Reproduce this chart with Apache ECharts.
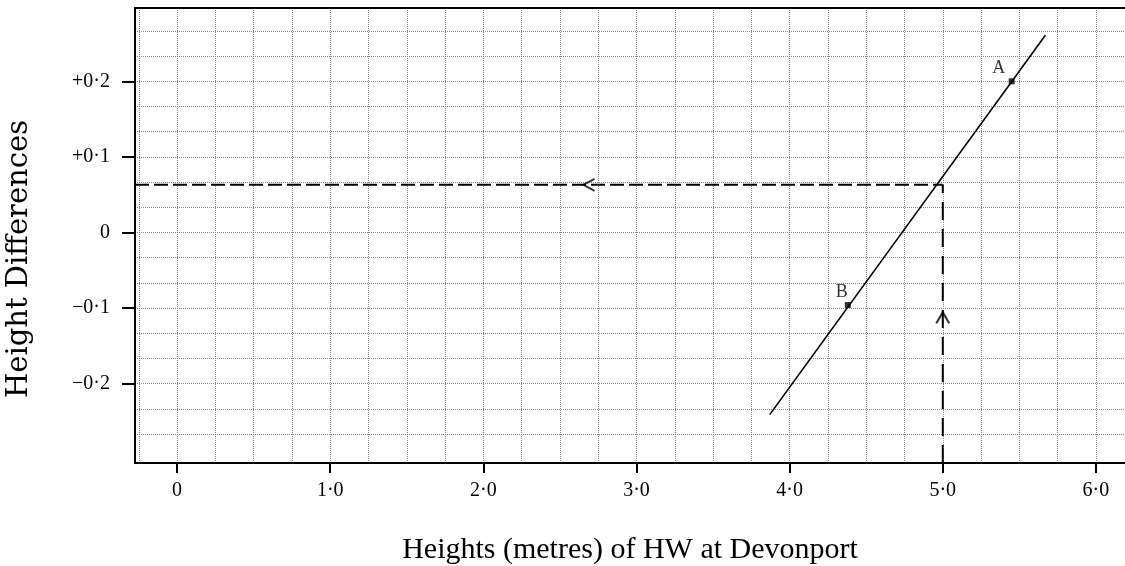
<!DOCTYPE html>
<html>
<head>
<meta charset="utf-8">
<script src="https://cdn.jsdelivr.net/npm/echarts@6/dist/echarts.min.js"></script>
<style>
  html, body { margin: 0; padding: 0; background: #fff; }
  #chart { width: 1125px; height: 566px; }
</style>
</head>
<body>
<div id="chart"></div>
<script>
// axis ranges and ticks
var xRange = [-0.275, 6.19];
var yRange = [-0.305, 0.297];
var xTicks = [0, 1, 2, 3, 4, 5, 6];
var xTickLabels = ['0', '1·0', '2·0', '3·0', '4·0', '5·0', '6·0'];
var yTicks = [-0.2, -0.1, 0, 0.1, 0.2];
var yTickLabels = ['−0·2', '−0·1', '0', '+0·1', '+0·2'];

// the fitted line and the two points on it
var lineX = [3.87, 5.67];
var lineY = [-0.241, 0.261];
var pointNames = ['A', 'B'];
var pointX = [5.45, 4.38];
var pointY = [0.200, -0.096];

// reading: HW of 5.0 m gives a difference of about +0.063
var readX = 5.0;
var readY = 0.063;
var arrowLeftX = 2.69;   // arrow on the horizontal dashed line
var arrowUpY = -0.113;   // arrow on the vertical dashed line

var serif = '"Liberation Serif", "DejaVu Serif", serif';
var ink = '#000';

var chart = echarts.init(document.getElementById('chart'));

var dotted = { show: true, lineStyle: { color: '#8a8a8a', type: 'dotted', width: 1 } };

var option = {
  animation: false,
  backgroundColor: '#fff',
  grid: { left: 135, right: 0, top: 8, bottom: 103, outerBoundsMode: 'none', containLabel: false },
  graphic: [{
    type: 'text',
    x: 19, y: 259,
    rotation: Math.PI / 2,
    style: {
      text: 'Height Differences',
      font: '29px "DejaVu Serif", serif',
      fill: ink,
      align: 'center',
      verticalAlign: 'middle'
    }
  }],
  xAxis: [{
    type: 'value',
    min: xRange[0], max: xRange[1],
    name: 'Heights (metres) of HW at Devonport',
    nameLocation: 'middle',
    nameGap: 72,
    nameTextStyle: { fontFamily: serif, fontSize: 30, color: ink },
    axisLine: { onZero: false, lineStyle: { color: ink, width: 2 } },
    axisTick: { customValues: xTicks, length: 10, lineStyle: { color: ink, width: 2 } },
    axisLabel: {
      customValues: xTicks,
      margin: 18,
      fontFamily: serif, fontSize: 20, color: ink,
      formatter: function (v) { return xTickLabels[xTicks.indexOf(Math.round(v))]; }
    },
    splitLine: dotted,
    minorTick: { show: false, splitNumber: 4 },
    minorSplitLine: dotted
  }, {
    type: 'value',
    position: 'top',
    min: xRange[0], max: xRange[1],
    axisLine: { onZero: false, lineStyle: { color: ink, width: 2 } },
    axisTick: { show: false },
    axisLabel: { show: false },
    splitLine: { show: false }
  }],
  yAxis: {
    type: 'value',
    min: yRange[0], max: yRange[1],
    axisLine: { show: true, onZero: false, lineStyle: { color: ink, width: 2 } },
    axisTick: { show: true, customValues: yTicks, length: 13, lineStyle: { color: ink, width: 2 } },
    axisLabel: {
      customValues: yTicks,
      margin: 25,
      fontFamily: serif, fontSize: 20, color: ink,
      formatter: function (v) {
        for (var i = 0; i < yTicks.length; i++) {
          if (Math.abs(yTicks[i] - v) < 1e-6) return yTickLabels[i];
        }
        return '';
      }
    },
    splitLine: dotted,
    minorTick: { show: false, splitNumber: 3 },
    minorSplitLine: dotted
  },
  series: [{
    // horizontal reading line
    type: 'line',
    data: [[xRange[0], readY], [readX, readY]],
    symbol: 'none',
    lineStyle: { color: ink, width: 2, type: [14, 5] },
    z: 3
  }, {
    // vertical reading line
    type: 'line',
    data: [[readX, yRange[0]], [readX, readY]],
    symbol: 'none',
    lineStyle: { color: ink, width: 2, type: [18, 9] },
    z: 3
  }, {
    type: 'line',
    data: lineX.map(function (x, i) { return [x, lineY[i]]; }),
    symbol: 'none',
    lineStyle: { color: ink, width: 1.6 },
    z: 4
  }, {
    type: 'scatter',
    data: pointX.map(function (x, i) {
      return {
        name: pointNames[i],
        value: [x, pointY[i]],
        label: { offset: i === 0 ? [-13, 0] : [-6, 0] }
      };
    }),
    symbol: 'rect',
    symbolSize: 6,
    itemStyle: { color: ink },
    label: {
      show: true,
      position: 'top',
      distance: 1,
      formatter: '{b}',
      fontFamily: serif, fontSize: 18, color: ink
    },
    z: 5
  }, {
    // arrow heads on the reading lines
    type: 'scatter',
    data: [
      { value: [arrowLeftX, readY], symbolRotate: 0, symbolSize: [11, 12] },
      { value: [readX, arrowUpY], symbolRotate: -90, symbolSize: [11, 13] }
    ],
    symbol: 'path://M10,0L0,6L10,12',
    itemStyle: { color: 'none', borderColor: ink, borderWidth: 2 },
    z: 5
  }]
};

chart.setOption(option);
</script>
</body>
</html>
